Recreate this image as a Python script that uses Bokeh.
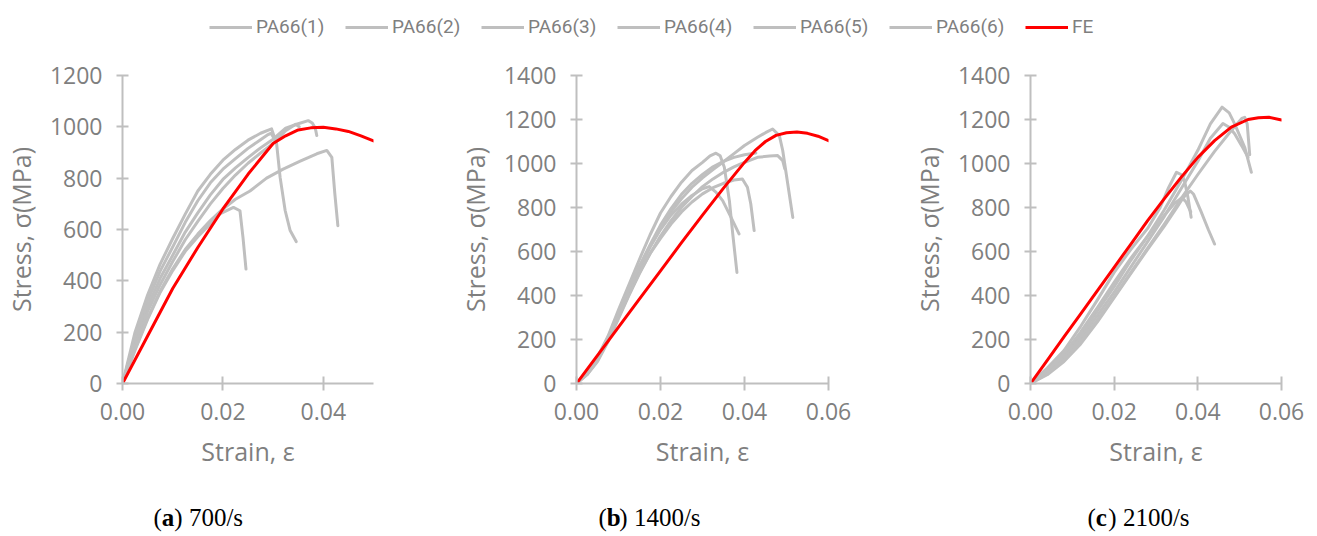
from bokeh.plotting import figure
from bokeh.layouts import column, row
from bokeh.models import (Range1d, FixedTicker, PrintfTickFormatter, Legend,
                          LegendItem, Label)
from bokeh.embed import file_html
from bokeh.resources import INLINE

# ---------------- data ----------------
series_names = ["PA66(1)", "PA66(2)", "PA66(3)", "PA66(4)", "PA66(5)", "PA66(6)", "FE"]
caption_letters = ["a", "b", "c"]
caption_rates = ["700/s", "1400/s", "2100/s"]
y_label = "Stress, σ(MPa)"
x_label = "Strain, ε"
x_ticks_a = [0, 0.02, 0.04]
x_ticks_bc = [0, 0.02, 0.04, 0.06]
y_ticks_a = [0, 200, 400, 600, 800, 1000, 1200]
y_ticks_bc = [0, 200, 400, 600, 800, 1000, 1200, 1400]

# Panel (a) 700/s
a1_strain = [0, 0.0025, 0.005, 0.0075, 0.01, 0.0125, 0.015, 0.0175, 0.02, 0.0225, 0.025, 0.0275, 0.0297, 0.0307, 0.0314, 0.0324, 0.0334, 0.0346]
a1_stress = [0, 200, 345, 465, 565, 660, 750, 815, 870, 912, 948, 975, 992, 934, 803, 674, 596, 553]
a2_strain = [0, 0.0025, 0.005, 0.0075, 0.01, 0.0125, 0.015, 0.0175, 0.02, 0.0225, 0.025, 0.0275, 0.029, 0.0296, 0.0302]
a2_stress = [0, 180, 322, 438, 532, 628, 712, 782, 835, 876, 916, 950, 970, 975, 955]
a3_strain = [0, 0.0025, 0.005, 0.0075, 0.01, 0.0125, 0.015, 0.0175, 0.02, 0.0225, 0.025, 0.0275, 0.03, 0.0325, 0.035, 0.037, 0.0378, 0.0384, 0.0387]
a3_stress = [0, 165, 300, 410, 500, 590, 665, 735, 795, 840, 880, 918, 952, 995, 1012, 1024, 1015, 995, 966]
a4_strain = [0, 0.0025, 0.005, 0.0075, 0.01, 0.0125, 0.015, 0.0175, 0.02, 0.0225, 0.025, 0.0275, 0.03, 0.0325, 0.0345, 0.0352]
a4_stress = [0, 150, 280, 385, 475, 560, 632, 700, 760, 812, 858, 898, 935, 985, 1010, 1000]
a5_strain = [0, 0.0025, 0.005, 0.0075, 0.01, 0.0125, 0.015, 0.0175, 0.0194, 0.0221, 0.0234, 0.024, 0.0246]
a5_stress = [0, 130, 250, 355, 440, 515, 572, 622, 661, 686, 673, 569, 446]
a6_strain = [0, 0.0025, 0.005, 0.0075, 0.01, 0.0125, 0.015, 0.0175, 0.02, 0.0225, 0.0254, 0.0287, 0.032, 0.0354, 0.0387, 0.0407, 0.0417, 0.0423, 0.0429]
a6_stress = [0, 135, 255, 360, 447, 522, 582, 635, 680, 718, 750, 800, 835, 866, 895, 908, 881, 739, 615]
a_fe_strain = [0, 0.005, 0.01, 0.015, 0.02, 0.025, 0.03, 0.0325, 0.035, 0.0375, 0.04, 0.0425, 0.045, 0.0475, 0.05]
a_fe_stress = [0, 185, 370, 530, 680, 815, 935, 965, 988, 996, 998, 992, 982, 965, 945]

# Panel (b) 1400/s
b1_strain = [0, 0.0025, 0.005, 0.0075, 0.01, 0.0125, 0.015, 0.0175, 0.02, 0.0225, 0.025, 0.0275, 0.03, 0.0318, 0.0332, 0.0342, 0.0352, 0.0364, 0.0372, 0.0382]
b1_stress = [0, 50, 120, 215, 335, 450, 565, 675, 775, 850, 915, 968, 1005, 1035, 1047, 1035, 983, 831, 680, 505]
b2_strain = [0, 0.0025, 0.005, 0.0075, 0.01, 0.0125, 0.015, 0.0175, 0.02, 0.0225, 0.025, 0.0275, 0.03, 0.0325, 0.035, 0.0375, 0.04, 0.0431, 0.045, 0.0467, 0.0483, 0.0491, 0.0503, 0.0515]
b2_stress = [0, 45, 110, 200, 310, 420, 525, 620, 705, 780, 840, 892, 935, 972, 1008, 1045, 1082, 1119, 1140, 1157, 1127, 1059, 907, 755]
b3_strain = [0, 0.0025, 0.005, 0.0075, 0.01, 0.0125, 0.015, 0.0175, 0.02, 0.0225, 0.025, 0.0275, 0.03, 0.0325, 0.035, 0.0375, 0.0391, 0.0431, 0.046, 0.0479, 0.0491, 0.0496]
b3_stress = [0, 40, 100, 190, 295, 400, 500, 590, 670, 740, 800, 850, 895, 930, 960, 985, 998, 1028, 1034, 1036, 1013, 975]
b4_strain = [0, 0.0025, 0.005, 0.0075, 0.01, 0.0125, 0.015, 0.0175, 0.02, 0.0225, 0.025, 0.0275, 0.03, 0.0325, 0.035, 0.0375, 0.0395, 0.0407, 0.0415, 0.0423]
b4_stress = [0, 40, 105, 195, 300, 405, 505, 590, 660, 725, 780, 825, 862, 890, 910, 925, 930, 892, 816, 695]
b5_strain = [0, 0.0025, 0.005, 0.0075, 0.01, 0.0125, 0.015, 0.0175, 0.02, 0.0225, 0.025, 0.0275, 0.03, 0.0316, 0.0332, 0.0348, 0.0368, 0.0387]
b5_stress = [0, 50, 120, 210, 320, 430, 530, 620, 700, 765, 815, 855, 885, 895, 870, 831, 755, 680]
b6_strain = [0, 0.0025, 0.005, 0.0075, 0.01, 0.0125, 0.015, 0.0175, 0.02, 0.0225, 0.025, 0.0275, 0.03, 0.0325, 0.035, 0.0375, 0.04, 0.0427]
b6_stress = [0, 45, 115, 205, 320, 430, 535, 630, 720, 795, 860, 910, 950, 985, 1010, 1028, 1040, 1048]
b_fe_strain = [0, 0.005, 0.01, 0.015, 0.02, 0.025, 0.03, 0.035, 0.04, 0.0425, 0.045, 0.0475, 0.05, 0.0525, 0.055, 0.0575, 0.06]
b_fe_stress = [0, 128, 256, 385, 512, 640, 765, 888, 1005, 1058, 1100, 1128, 1140, 1143, 1137, 1124, 1104]

# Panel (c) 2100/s
c1_strain = [0, 0.004, 0.008, 0.012, 0.016, 0.02, 0.024, 0.028, 0.032, 0.036, 0.04, 0.043, 0.0458, 0.0475, 0.0488, 0.0512, 0.0528]
c1_stress = [0, 55, 125, 220, 330, 440, 560, 670, 790, 920, 1060, 1180, 1256, 1230, 1180, 1074, 960]
c2_strain = [0, 0.004, 0.008, 0.012, 0.016, 0.02, 0.024, 0.028, 0.032, 0.036, 0.04, 0.043, 0.046, 0.0475, 0.0488, 0.0505, 0.052]
c2_stress = [0, 50, 115, 205, 310, 415, 530, 645, 760, 885, 1010, 1115, 1182, 1165, 1135, 1080, 1028]
c3_strain = [0, 0.004, 0.008, 0.012, 0.016, 0.02, 0.024, 0.028, 0.031, 0.033, 0.0349, 0.036, 0.0368, 0.0376, 0.0384]
c3_stress = [0, 70, 150, 260, 380, 505, 610, 705, 800, 890, 960, 950, 922, 850, 756]
c4_strain = [0, 0.004, 0.008, 0.012, 0.016, 0.02, 0.024, 0.028, 0.032, 0.035, 0.0365, 0.0382, 0.039, 0.0408, 0.0425, 0.044]
c4_stress = [0, 40, 100, 180, 280, 390, 500, 610, 715, 800, 845, 875, 860, 780, 700, 634]
c5_strain = [0, 0.004, 0.008, 0.012, 0.016, 0.02, 0.024, 0.028, 0.032, 0.036, 0.04, 0.044, 0.048, 0.0505, 0.0512, 0.0518, 0.0524]
c5_stress = [0, 45, 105, 190, 290, 395, 505, 615, 725, 840, 950, 1055, 1150, 1205, 1210, 1180, 1040]
c6_strain = [0, 0.004, 0.008, 0.012, 0.016, 0.02, 0.024, 0.028, 0.032, 0.0345, 0.0362, 0.0372, 0.0383]
c6_stress = [0, 60, 135, 235, 345, 460, 570, 670, 765, 820, 845, 825, 780]
c_fe_strain = [0, 0.004, 0.008, 0.012, 0.016, 0.02, 0.024, 0.028, 0.032, 0.036, 0.04, 0.044, 0.048, 0.052, 0.0545, 0.057, 0.06]
c_fe_stress = [0, 105, 212, 316, 422, 528, 634, 740, 840, 937, 1028, 1104, 1165, 1200, 1208, 1210, 1198]

# ---------------- style ----------------
GRAY = "#bfbfbf"
RED = "#ff0000"
AXIS = "#bfbfbf"
TXT = "#7f7f7f"
TICK_FONT = "Open Sans"
TOTAL_W = 1315


def panel(width, left, right, xmax, ymax, xticks, yticks, grays, fe):
    p = figure(width=width, height=443, x_range=Range1d(0, xmax), y_range=Range1d(0, ymax),
               toolbar_location=None, output_backend="svg",
               min_border_left=left, min_border_right=right,
               min_border_top=28, min_border_bottom=107)
    p.grid.visible = False
    p.outline_line_color = None
    for xs, ys in grays:
        p.line(xs, ys, line_color=GRAY, line_width=3, line_join="round", line_cap="round")
    p.line(fe[0], fe[1], line_color=RED, line_width=3, line_join="round", line_cap="round")
    p.xaxis.ticker = FixedTicker(ticks=xticks)
    p.yaxis.ticker = FixedTicker(ticks=yticks)
    p.xaxis.formatter = PrintfTickFormatter(format="%.2f")
    for ax in (p.xaxis[0], p.yaxis[0]):
        ax.axis_line_color = AXIS
        ax.axis_line_width = 2
        ax.major_tick_line_color = AXIS
        ax.major_tick_line_width = 2
        ax.minor_tick_line_color = None
        ax.major_label_text_color = TXT
        ax.major_label_text_font = TICK_FONT
        ax.major_label_text_font_size = "23px"
        ax.axis_label_text_color = TXT
        ax.axis_label_text_font = TICK_FONT
        ax.axis_label_text_font_size = "25px"
        ax.axis_label_text_font_style = "normal"
    p.xaxis.major_tick_in = 7
    p.xaxis.major_tick_out = 7
    p.yaxis.major_tick_in = 6
    p.yaxis.major_tick_out = 6
    p.xaxis.major_label_standoff = 12
    p.yaxis.major_label_standoff = 14
    p.xaxis.axis_label = x_label
    p.yaxis.axis_label = y_label
    p.xaxis.axis_label_standoff = 11
    p.yaxis.axis_label_standoff = 9
    return p


pa = panel(450, 122, 77, 0.05, 1200, x_ticks_a, y_ticks_a,
           [(a1_strain, a1_stress), (a2_strain, a2_stress), (a3_strain, a3_stress),
            (a4_strain, a4_stress), (a5_strain, a5_stress), (a6_strain, a6_stress)],
           (a_fe_strain, a_fe_stress))
pb = panel(450, 126, 72, 0.06, 1400, x_ticks_bc, y_ticks_bc,
           [(b1_strain, b1_stress), (b2_strain, b2_stress), (b3_strain, b3_stress),
            (b4_strain, b4_stress), (b5_strain, b5_stress), (b6_strain, b6_stress)],
           (b_fe_strain, b_fe_stress))
pc = panel(415, 130, 34, 0.06, 1400, x_ticks_bc, y_ticks_bc,
           [(c1_strain, c1_stress), (c2_strain, c2_stress), (c3_strain, c3_stress),
            (c4_strain, c4_stress), (c5_strain, c5_stress), (c6_strain, c6_stress)],
           (c_fe_strain, c_fe_stress))

# ---------------- legend strip ----------------
lg = figure(width=TOTAL_W, height=47, x_range=Range1d(0, 1), y_range=Range1d(0, 1),
            x_axis_type=None, y_axis_type=None, toolbar_location=None,
            output_backend="svg", min_border=0)
lg.grid.visible = False
lg.outline_line_color = None
items = []
for name in series_names:
    col = RED if name == "FE" else GRAY
    # placeholder renderer (NaN -> nothing drawn) that only supplies the legend swatch
    r = lg.line(x=[float("nan")], y=[float("nan")], line_color=col, line_width=3)
    items.append(LegendItem(label=name, renderers=[r]))
legend = Legend(items=items, orientation="horizontal", location=(209, 9),
                glyph_width=43, glyph_height=20, label_standoff=4, spacing=17,
                label_width=72, padding=0, margin=0, border_line_alpha=0,
                background_fill_alpha=0, label_text_font="Roboto",
                label_text_font_size="19px", label_text_color=TXT)
lg.add_layout(legend)

# ---------------- captions ----------------
CAP_H = 44
cap = figure(width=TOTAL_W, height=CAP_H, x_range=Range1d(0, TOTAL_W), y_range=Range1d(0, CAP_H),
             x_axis_type=None, y_axis_type=None, toolbar_location=None,
             output_backend="svg", min_border=0)
cap.grid.visible = False
cap.outline_line_color = None
cap_x = [153, 598, 1087]
for xpos, letter, rate in zip(cap_x, caption_letters, caption_rates):
    common = dict(y=17, text_font="Liberation Serif", text_font_size="25px",
                  text_color="black", text_baseline="middle")
    cap.add_layout(Label(x=xpos, text="(", **common))
    cap.add_layout(Label(x=xpos + 8.3, text=letter, text_font_style="bold", **common))
    cap.add_layout(Label(x=xpos + 20.8, text=") " + rate, **common))

layout = column(lg, row(pa, pb, pc, spacing=0), cap, spacing=0)

with open("out.html", "w") as f:
    f.write(file_html(layout, INLINE))
